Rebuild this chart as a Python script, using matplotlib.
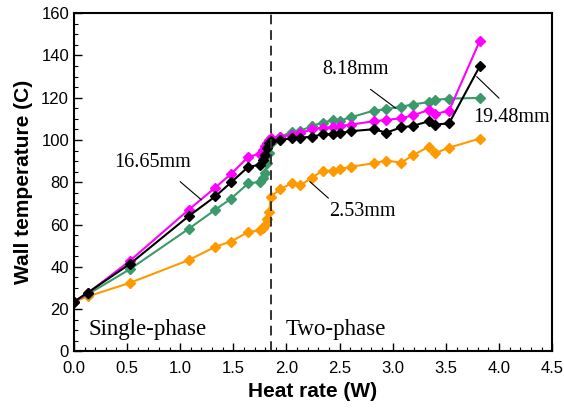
import matplotlib
matplotlib.use('Agg')
import matplotlib.pyplot as plt
from matplotlib.ticker import MultipleLocator

# heat rate (W), shared by all four channels
heat = [0, 0.13, 0.53, 1.08, 1.33, 1.48, 1.64, 1.75, 1.78, 1.80, 1.82, 1.84,
        1.85, 1.94, 2.05, 2.13, 2.24, 2.34, 2.44, 2.50, 2.61, 2.82, 2.94,
        3.08, 3.19, 3.34, 3.40, 3.53, 3.82]

# wall temperature (C)
t_2_53 = [23.5, 26, 32.5, 43.2, 49.5, 52, 56.5, 57.3, 58.5, 60, 62.5, 66,
          73.2, 76.7, 79.6, 78.5, 82.2, 85.5, 85.5, 86.2, 87.4, 89, 90.3,
          89.3, 92.8, 96.9, 93.8, 96.4, 100.7]
t_8_18 = [23.5, 27, 39, 58, 67, 72.3, 79.5, 80.2, 82, 84.3, 89, 93.8,
          98.5, 101.3, 104, 104.3, 106.7, 108.2, 109.5, 109.2, 110.8, 113.9,
          114.6, 115.8, 116.8, 118, 119, 119.6, 119.9]
t_16_65 = [23.5, 27.5, 43, 67, 77.5, 84, 92, 93.5, 95.5, 97, 98.5, 99.8,
           100.8, 101.5, 102.4, 103.2, 105.1, 105.9, 106, 106.7, 107.3, 108.9,
           109.5, 110.3, 111.7, 114.2, 112.3, 113.9, 147]
t_19_48 = [23.5, 27.8, 41.5, 64, 73.3, 80, 87.3, 88.3, 90.5, 93, 96, 98.5,
           99.5, 100, 100.8, 101.1, 101.6, 102.7, 102.7, 103.2, 104.2, 105.1,
           103.5, 106, 106.7, 108.9, 107.3, 107.9, 135]

onset = 1.85  # start of two-phase regime

fig = plt.figure(figsize=(5.64, 4.12), dpi=100)
ax = fig.add_axes([0.131, 0.147, 0.848, 0.821])

series = [(t_2_53, '#ff9900'), (t_8_18, '#3a9a6a'),
          (t_16_65, '#ff00ff'), (t_19_48, 'black')]
for temps, col in series:
    ax.plot(heat, temps, color=col, lw=1.5, marker='D', ms=5, mec=col, mfc=col)

ax.axvline(onset, color='#333333', ls=(0, (5, 3)), lw=1.4)

ax.set_xlim(0, 4.5)
ax.set_ylim(0, 160)
ax.xaxis.set_major_locator(MultipleLocator(0.5))
ax.xaxis.set_minor_locator(MultipleLocator(0.1))
ax.yaxis.set_major_locator(MultipleLocator(20))
ax.yaxis.set_minor_locator(MultipleLocator(5))
ax.tick_params(which='both', direction='in', top=False, right=False, labelsize=12)
ax.tick_params(which='major', length=6, width=1)
ax.tick_params(which='minor', length=3, width=0.8)
ax.tick_params(axis='x', which='major', pad=7)
for s in ax.spines.values():
    s.set_linewidth(1.5)
ax.xaxis.set_major_formatter(plt.FuncFormatter(lambda v, p: '%.1f' % v))

ax.set_xlabel('Heat rate (W)', fontsize=15, fontweight='bold',
              family='Liberation Sans', labelpad=4)
ax.set_ylabel('Wall temperature (C)', fontsize=15, fontweight='bold',
              family='Liberation Sans', labelpad=6)
for lab in ax.get_xticklabels() + ax.get_yticklabels():
    lab.set_family('Liberation Sans')

serif = dict(family='Liberation Serif', fontsize=14.5)
line = dict(arrowstyle='-', color='black', lw=0.8, shrinkA=0, shrinkB=0)
ax.text(0.744, 89.2, '16.65mm', ha='center', va='center', **serif)
ax.annotate('', xy=(1.2, 71.7), xytext=(1.0, 80.3), arrowprops=line)
ax.text(2.65, 133.2, '8.18mm', ha='center', va='center', **serif)
ax.annotate('', xy=(3.03, 115), xytext=(2.79, 124), arrowprops=line)
ax.text(4.115, 110.5, '19.48mm', ha='center', va='center', **serif)
ax.annotate('', xy=(3.79, 130), xytext=(4.0, 119.8), arrowprops=line)
ax.text(2.717, 66, '2.53mm', ha='center', va='center', **serif)
ax.annotate('', xy=(2.22, 80.3), xytext=(2.395, 72.5), arrowprops=line)

phase = dict(family='Liberation Serif', fontsize=16.5)
ax.text(0.697, 10.2, 'Single-phase', ha='center', va='center', **phase)
ax.text(1.996, 10.2, 'Two-phase', ha='left', va='center', **phase)

fig.savefig('out.png', dpi=100)
